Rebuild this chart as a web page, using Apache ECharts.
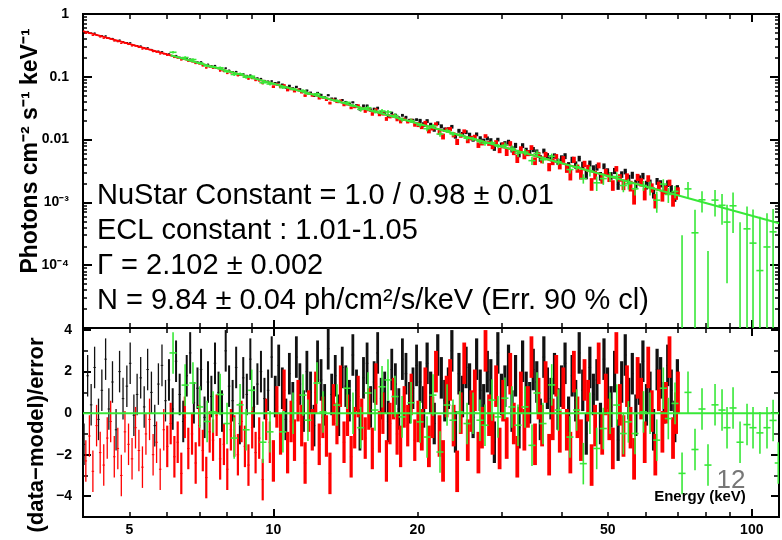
<!DOCTYPE html>
<html><head><meta charset="utf-8">
<script src="https://cdn.jsdelivr.net/npm/echarts@6/dist/echarts.min.js"></script>
<style>html,body{margin:0;padding:0;background:#fff}#c{width:782px;height:540px}</style>
</head><body><div id="c"></div>
<script>
// ---- fit parameters (from the chart text) ----
const N_NORM = 9.84, GAMMA = 2.102;
// ---- axis ranges ----
const X_MIN = 4, X_MAX = 114;
const Y_MIN = 1e-5, Y_MAX = 1;
const R_MIN = -5, R_MAX = 4.1;

// ---- NuSTAR FPMA (black) channel energies, keV ----
const chanE_A = [
  4.02,4.09,4.16,4.23,4.31,4.38,4.46,4.53,4.61,4.69,4.77,4.85,4.94,5.02,5.11,5.19,5.28,5.37,5.46,5.56,5.65,5.75,5.85,5.95,
  6.05,6.16,6.26,6.37,6.48,6.59,6.70,6.82,6.94,7.06,7.18,7.30,7.42,7.55,7.68,7.81,7.95,8.08,8.22,8.36,8.51,8.65,8.80,8.95,9.11,9.26,9.42,9.58,9.75,9.92,
  10.09,10.26,10.44,10.62,10.80,10.98,11.17,11.36,11.56,11.75,11.96,12.16,12.37,12.58,12.80,13.02,13.24,13.47,13.70,13.93,14.17,14.42,14.66,14.92,15.17,15.43,15.70,15.97,16.24,16.52,16.80,17.09,17.38,17.68,17.99,18.29,18.61,18.93,19.25,19.58,19.92,
  20.26,20.61,20.96,21.32,21.69,22.06,22.44,22.82,23.22,23.61,24.02,24.43,24.85,25.28,25.71,26.15,26.60,27.06,27.52,28.00,28.48,28.97,29.46,29.97,30.48,31.01,31.54,32.08,32.63,33.19,33.76,34.34,34.93,35.53,36.14,36.76,37.39,38.04,38.69,39.35,
  40.03,40.71,41.41,42.12,42.85,43.58,44.33,45.09,45.87,46.65,47.46,48.27,49.10,49.94,50.80,51.67,52.56,53.47,54.39,55.32,56.27,57.24,58.22,59.22,60.24,61.28,62.33,63.40,64.49,65.60,66.73,67.87,69.04,69.90
];
// ---- NuSTAR FPMB (red) channel energies, keV ----
const chanE_B = [
  4.055,4.125,4.195,4.27,4.345,4.42,4.495,4.57,4.65,4.73,4.81,4.895,4.98,5.065,5.15,5.235,5.325,5.415,5.51,5.605,5.70,5.80,5.90,6.00,
  6.10,6.21,6.31,6.42,6.53,6.64,6.76,6.88,7.00,7.12,7.24,7.36,7.48,7.61,7.74,7.88,8.01,8.15,8.29,8.43,8.58,8.72,8.87,9.03,9.18,9.34,9.50,9.66,9.83,10.00,
  10.17,10.35,10.53,10.71,10.89,11.07,11.26,11.46,11.65,11.85,12.06,12.26,12.47,12.69,12.91,13.13,13.35,13.58,13.81,14.05,14.29,14.54,14.79,15.04,15.30,15.56,15.83,16.10,16.38,16.66,16.94,17.23,17.53,17.83,18.14,18.45,18.77,19.09,19.41,19.75,20.09,
  20.43,20.78,21.14,21.50,21.87,22.25,22.63,23.02,23.41,23.81,24.22,24.64,25.06,25.49,25.93,26.37,26.83,27.29,27.76,28.24,28.72,29.21,29.71,30.22,30.74,31.27,31.81,32.35,32.91,33.47,34.05,34.63,35.23,35.83,36.45,37.07,37.71,38.36,39.02,39.69,
  40.37,41.06,41.76,42.48,43.21,43.95,44.71,45.48,46.26,47.05,47.86,48.68,49.52,50.37,51.23,52.11,53.01,53.93,54.85,55.79,56.75,57.73,58.72,59.73,60.76,61.80,62.86,63.94,65.04,66.16,67.30,68.45,69.47,70.10
];
// ---- residuals (data-model)/error ----
const residRed = [
  -2.3,-1.1,-2.8,-0.6,-1.9,-2.5,-1.2,-0.4,-2.1,-1.7,-3.0,-0.9,-1.5,-2.2,-0.7,-1.8,-2.6,-1.0,-0.3,-2.0,-1.4,-2.7,-0.8,-1.6,
  -0.5,-2.1,-1.4,-2.9,-0.2,-1.7,-1.0,-2.4,-0.6,-1.8,-3.1,-0.9,-1.3,-0.1,-2.2,-1.5,-2.7,-0.8,-1.1,-2.0,-0.4,-1.6,-2.5,-0.7,-1.9,-1.2,-3.2,-0.3,-1.4,-2.3,
  0.3,-1.0,1.1,-1.9,-0.4,-1.3,0.6,-0.6,-2.4,0.1,-0.8,1.0,-1.5,-0.2,-1.1,-2.9,0.4,-0.5,1.3,-1.4,-0.1,-2.1,-0.7,0.8,-0.3,-1.2,0.2,-1.7,1.4,-0.9,0.0,-2.3,-0.5,0.7,-1.0,-1.6,0.3,-0.6,0.9,-1.3,-0.4,
  -0.8,1.2,-1.6,-0.2,2.0,-1.1,-2.3,0.8,1.6,-0.6,-2.8,0.0,2.4,-1.3,0.1,1.1,-1.9,-0.7,3.0,-0.1,-1.0,1.3,-1.7,0.6,-1.2,1.9,-0.5,-2.1,1.0,-0.8,0.3,2.7,-1.5,0.7,-0.6,1.5,-2.0,-0.3,1.8,-0.9,
  1.2,-0.8,-1.9,2.0,-0.2,-1.3,1.6,0.6,-2.5,-0.6,2.4,-1.0,0.9,-0.3,-1.7,2.9,0.4,-1.1,1.3,-0.7,-2.2,1.7,0.7,-1.4,2.2,0.1,-2.0,1.1,-0.9,0.5,2.7,-1.2,0.0,1.0
];
const residBlack = [
  -1.5,1.8,0.4,2.2,-0.3,1.1,2.6,0.2,1.5,-0.8,2.0,0.7,1.3,2.4,-0.1,0.9,1.7,0.3,2.1,1.0,-0.6,1.4,2.3,0.6,
  1.6,0.2,2.5,0.9,-0.4,1.8,2.9,0.5,1.2,2.1,-0.2,1.5,0.8,2.4,1.0,0.1,3.0,1.3,0.6,2.2,-0.5,1.7,0.9,2.6,0.3,1.4,2.0,0.7,1.1,2.7,
  0.8,2.3,1.2,-0.3,1.9,0.5,2.7,1.4,0.1,2.0,1.0,-0.6,2.5,1.6,0.4,3.1,0.9,1.8,-0.1,2.2,1.3,0.6,2.8,1.1,-0.8,1.7,2.4,0.3,1.5,2.9,0.7,1.0,-0.4,2.1,1.4,0.2,2.6,1.9,0.5,1.2,2.3,
  1.5,0.3,2.4,1.0,-0.5,2.8,1.7,0.6,1.2,3.0,-0.9,1.9,0.8,2.2,1.4,-0.2,2.6,1.1,0.4,2.0,1.6,-1.4,2.9,0.9,1.3,2.3,0.1,1.8,-0.7,2.5,1.0,0.5,2.1,1.5,-0.3,2.7,1.2,0.7,1.9,0.2,
  1.3,2.4,-0.2,1.8,0.6,2.9,1.1,-1.0,2.2,0.9,1.6,-0.5,2.6,1.2,0.3,2.0,-1.3,1.5,2.8,0.7,1.9,-0.1,1.4,2.5,0.4,1.0,-0.8,2.1,1.7,0.5,2.3,1.1,-0.4,1.6
];
// ---- green (ECL) spectrum ----
const greenE = [
  6.17,6.54,6.79,7.02,7.27,7.48,7.74,8.00,8.28,8.52,8.77,
  9.01,9.51,9.84,10.47,10.99,11.53,11.81,12.34,12.70,13.58,14.26,14.67,15.22,15.77,16.31,16.87,17.36,17.96,18.58,19.40,
  20.26,20.95,21.56,22.30,23.07,23.74,24.55,25.40,26.14,27.03,27.69,28.64,29.48,30.49,31.53,32.46,33.57,34.72,35.57,36.61,
  38.18,39.40,41.68,43.05,44.45,45.89,47.41,48.94,50.55,52.21,53.90,55.21,57.01,59.37,61.29,63.30,65.33,66.92,69.12,
  71.49,73.57,76.09,78.70,81.00,83.79,86.66,88.77,91.38,94.51,97.74,100.6,104.0,107.6,110.8,113.6
];
const residGreen = [
  2.9,1.35,1.45,0.3,-0.4,0.06,0.9,-0.5,-1.2,0.4,-0.8,
  1.1,-1.4,-0.9,-0.9,0.0,0.87,-0.34,1.45,0.06,0.39,1.2,0.0,-0.7,0.97,0.15,1.27,1.6,0.8,-0.18,0.5,
  -0.42,-1.15,0.87,-1.87,0.39,-0.34,0.06,-0.5,0.0,-0.34,-0.58,0.63,-0.18,0.72,0.3,-0.58,0.3,-1.55,0.97,-0.5,
  1.36,0.15,-1.15,0.15,-2.43,0.0,-1.7,-0.74,0.0,0.39,-0.98,-0.42,-0.98,0.06,0.0,-1.3,1.2,-0.26,0.47,
  -2.9,1.0,-1.75,0.2,-2.5,0.4,0.15,-0.7,0.25,-1.4,-0.55,-0.7,-0.95,-0.7,-0.35,-2.4
];
// ---- fractional flux errors by energy band (upper band edges in keV) ----
const nuErrEdges = [7, 10, 15, 20, 30, 40, 55, 1000];
const nuRelErr   = [0.02, 0.03, 0.045, 0.06, 0.085, 0.115, 0.145, 0.17];
const grErrEdges = [15, 30, 45, 60, 70, 80, 90, 100, 1000];
const grRelErr   = [0.05, 0.08, 0.12, 0.18, 0.25, 0.40, 0.55, 0.75, 0.90];
const nuBinHalf = 0.006, grBinHalf = 0.017;   // relative half bin widths
// ---- model energy ranges ----
const modelE_NuStar = [4, 70];
const modelE_Green = [6.1, 114];
// ---- ticks and labels ----
const xTicksMajor = [10, 100];
const xTicksMinor = [4,5,6,7,8,9,20,30,40,50,60,70,80,90];
const xTickLabels = [5, 10, 20, 50, 100];
const yTicksMajor = [1e-5,1e-4,1e-3,1e-2,0.1,1];
const yTicksMinor = [2e-5,3e-5,4e-5,5e-5,6e-5,7e-5,8e-5,9e-5,2e-4,3e-4,4e-4,5e-4,6e-4,7e-4,8e-4,9e-4,
  2e-3,3e-3,4e-3,5e-3,6e-3,7e-3,8e-3,9e-3,0.02,0.03,0.04,0.05,0.06,0.07,0.08,0.09,0.2,0.3,0.4,0.5,0.6,0.7,0.8,0.9];
const yTickLabels = [1e-4, 1e-3, 0.01, 0.1, 1];
const yTickLabelText = ['10⁻⁴', '10⁻³', '0.01', '0.1', '1'];
const rTicksMajor = [-4,-2,0,2,4];
const rTicksMinor = [-5,-3,-1,1,3];
const rTickLabels = [-4,-2,0,2,4];
const annotation = [
  'NuStar Constant = 1.0 / 0.98 ± 0.01',
  'ECL constant : 1.01-1.05',
  'Γ = 2.102 ± 0.002',
  'N = 9.84 ± 0.04 ph/cm²/s/keV (Err. 90 % cl)'
];

const FONT = '"Liberation Sans", Arial, Helvetica, sans-serif';
const RED = '#ff0000', BLACK = '#111111', GREEN = '#38e838';

function model(e) { return N_NORM * Math.pow(e, -GAMMA); }
function lookup(edges, vals, e) { for (let i = 0; i < edges.length; i++) if (e < edges[i]) return vals[i]; return vals[vals.length - 1]; }
function specRows(E, R, edges, errs, hw) {
  return E.map((e, i) => {
    const m = model(e), s = lookup(edges, errs, e);
    return [e, m * (1 + R[i] * s), m * (1 + (R[i] - 1) * s), m * (1 + (R[i] + 1) * s), hw];
  });
}
function residRows(E, R, hw) { return E.map((e, i) => [e, R[i], R[i] - 1, R[i] + 1, hw]); }

function barRenderer(color, isLog, widthOf, capW) {
  return function (params, api) {
    const e = api.value(0), c = api.value(1), lo0 = api.value(2), hi = api.value(3), hw = api.value(4);
    if (isLog && !(hi > 0)) return null;
    const lo = (isLog && !(lo0 > 0)) ? Y_MIN / 20 : lo0;
    const a = api.coord([e, hi]), b = api.coord([e, lo]);
    const w = widthOf(e);
    const ch = [{ type: 'line', shape: { x1: a[0], y1: a[1], x2: b[0], y2: b[1] }, style: { stroke: color, lineWidth: w } }];
    if (!isLog || c > 0) {
      const p = api.coord([e * (1 - hw), c]), q = api.coord([e * (1 + hw), c]);
      ch.push({ type: 'line', shape: { x1: p[0], y1: p[1], x2: q[0], y2: q[1] }, style: { stroke: color, lineWidth: capW } });
    }
    return { type: 'group', children: ch };
  };
}
const redWidth = e => (e < 6 ? 1.3 : (e < 10 ? 2.2 : (e < 20 ? 3.2 : 3.8)));
const blackWidth = e => (e < 6 ? 1.3 : (e < 10 ? 2.0 : (e < 20 ? 2.8 : 3.2)));
const grWidth = e => 1.6;

function xAx(grid, pos, ticks, len, labels) {
  const o = { type: 'log', logBase: 10, gridIndex: grid, position: pos, min: X_MIN, max: X_MAX,
    axisLine: { show: false, onZero: false }, splitLine: { show: false },
    axisTick: { show: true, inside: true, length: len, customValues: ticks, lineStyle: { color: '#000', width: len > 5 ? 2 : 1.5 } },
    axisLabel: { show: false } };
  if (labels) o.axisLabel = { show: true, customValues: labels, margin: 6, color: '#000', fontFamily: FONT, fontWeight: 'bold', fontSize: 14,
    formatter: v => String(Math.round(v)) };
  return o;
}
function yAxTop(pos, ticks, len, labels) {
  const o = { type: 'log', logBase: 10, gridIndex: 0, position: pos, min: Y_MIN, max: Y_MAX,
    axisLine: { show: false, onZero: false }, splitLine: { show: false },
    axisTick: { show: true, inside: true, length: len, customValues: ticks, lineStyle: { color: '#000', width: len > 5 ? 2 : 1.5 } },
    axisLabel: { show: false } };
  if (labels) o.axisLabel = { show: true, customValues: labels, margin: 14, color: '#000', fontFamily: FONT, fontWeight: 'bold', fontSize: 14,
    formatter: v => { const k = Math.round(Math.log10(v)); const i = yTickLabels.findIndex(t => Math.round(Math.log10(t)) === k); return i >= 0 ? yTickLabelText[i] : ''; } };
  return o;
}
function yAxBot(pos, ticks, len, labels) {
  const o = { type: 'value', gridIndex: 1, position: pos, min: R_MIN, max: R_MAX,
    axisLine: { show: false, onZero: false }, splitLine: { show: false },
    axisTick: { show: true, inside: true, length: len, customValues: ticks, lineStyle: { color: '#000', width: len > 5 ? 2 : 1.5 } },
    axisLabel: { show: false } };
  if (labels) o.axisLabel = { show: true, customValues: labels, margin: 11, color: '#000', fontFamily: FONT, fontWeight: 'bold', fontSize: 14,
    formatter: v => (v < 0 ? '−' + (-v) : String(v)) };
  return o;
}

const chart = echarts.init(document.getElementById('c'), null, { renderer: 'canvas' });

const topBlack = specRows(chanE_A, residBlack, nuErrEdges, nuRelErr, nuBinHalf);
const topRed = specRows(chanE_B, residRed, nuErrEdges, nuRelErr, nuBinHalf);
const topGreen = specRows(greenE, residGreen, grErrEdges, grRelErr, grBinHalf);
const botBlack = residRows(chanE_A, residBlack, nuBinHalf);
const botRed = residRows(chanE_B, residRed, nuBinHalf);
const botGreen = residRows(greenE, residGreen, grBinHalf);

function custom(name, xi, yi, data, color, isLog, wf, capW, z) {
  return { type: 'custom', name, xAxisIndex: xi, yAxisIndex: yi, data, clip: true, z,
    encode: { x: 0, y: 1 }, renderItem: barRenderer(color, isLog, wf, capW), silent: true };
}
function line(xi, yi, data, color, z) {
  return { type: 'line', xAxisIndex: xi, yAxisIndex: yi, data, showSymbol: false, symbol: 'none', clip: true, z,
    lineStyle: { color, width: 2 }, silent: true };
}

const option = {
  animation: false,
  backgroundColor: '#fff',
  grid: [
    { left: 83, right: 3, top: 14, height: 314, show: true, borderColor: '#000', borderWidth: 2, backgroundColor: 'transparent' },
    { left: 83, right: 3, top: 328, height: 189, show: true, borderColor: '#000', borderWidth: 2, backgroundColor: 'transparent' }
  ],
  xAxis: [
    xAx(0, 'bottom', xTicksMajor, 8), xAx(0, 'bottom', xTicksMinor, 5), xAx(0, 'top', xTicksMajor, 8), xAx(0, 'top', xTicksMinor, 5),
    xAx(1, 'bottom', xTicksMajor, 8, xTickLabels), xAx(1, 'bottom', xTicksMinor, 5), xAx(1, 'top', xTicksMajor, 8), xAx(1, 'top', xTicksMinor, 5)
  ],
  yAxis: [
    yAxTop('left', yTicksMajor, 9, yTickLabels), yAxTop('left', yTicksMinor, 4), yAxTop('right', yTicksMajor, 9), yAxTop('right', yTicksMinor, 4),
    yAxBot('left', rTicksMajor, 8, rTickLabels), yAxBot('left', rTicksMinor, 5), yAxBot('right', rTicksMajor, 8), yAxBot('right', rTicksMinor, 5)
  ],
  series: [
    custom('FPMA', 0, 0, topBlack, BLACK, true, blackWidth, 1, 2),
    custom('FPMB', 0, 0, topRed, RED, true, redWidth, 1, 3),
    line(0, 0, modelE_NuStar.map(e => [e, model(e)]), RED, 4),
    custom('ECL', 0, 0, topGreen, GREEN, true, grWidth, 1.6, 5),
    line(0, 0, modelE_Green.map(e => [e, model(e)]), GREEN, 6),
    custom('FPMA res', 4, 4, botBlack, BLACK, false, blackWidth, 1, 2),
    custom('FPMB res', 4, 4, botRed, RED, false, redWidth, 1, 3),
    custom('ECL res', 4, 4, botGreen, GREEN, false, grWidth, 1.6, 5),
    line(4, 4, [[X_MIN, 0], [X_MAX, 0]], GREEN, 6)
  ],
  graphic: [
    { type: 'text', x: 31, y: 151, rotation: Math.PI / 2, z: 10,
      style: { text: 'Photons cm⁻² s⁻¹ keV⁻¹', fontFamily: FONT, fontWeight: 'bold', fontSize: 23, fill: '#000', align: 'center', verticalAlign: 'middle' } },
    { type: 'text', x: 37, y: 435, rotation: Math.PI / 2, z: 10,
      style: { text: '(data−model)/error', fontFamily: FONT, fontWeight: 'bold', fontSize: 22, fill: '#000', align: 'center', verticalAlign: 'middle' } },
    { type: 'text', x: 700, y: 497, z: 10,
      style: { text: 'Energy (keV)', fontFamily: FONT, fontWeight: 'bold', fontSize: 15, fill: '#000', align: 'center', verticalAlign: 'middle' } },
    { type: 'text', x: 731, y: 481, z: 10,
      style: { text: '12', fontFamily: FONT, fontSize: 26, fill: '#777', align: 'center', verticalAlign: 'middle' } }
  ].concat(annotation.map((t, i) => ({ type: 'text', x: 97, y: 196 + i * 35, z: 10,
      style: { text: t, fontFamily: FONT, fontSize: 29, fill: '#000', align: 'left', verticalAlign: 'middle' } })))
};
chart.setOption(option);
</script>
</body></html>
